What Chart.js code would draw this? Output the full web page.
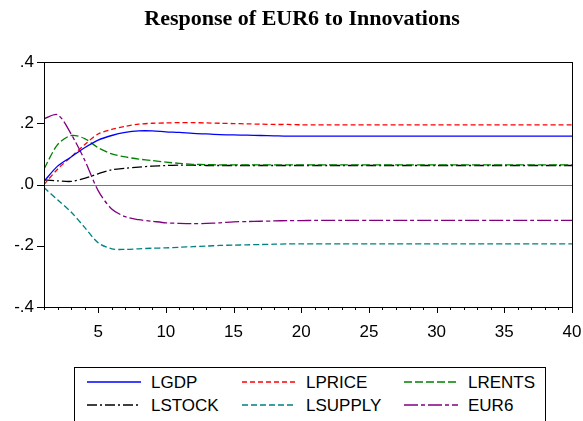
<!DOCTYPE html><html><head><script src="https://cdn.jsdelivr.net/npm/chart.js"></script>
<style>body{margin:0;background:#fff;width:583px;height:421px;overflow:hidden;position:relative;font-family:"Liberation Sans",Arial,sans-serif}
#lg{position:absolute;left:74px;top:367px;width:472px;height:70px;border:1px solid #000;box-sizing:border-box}
.it{position:absolute;font-size:17px;line-height:18px;white-space:nowrap}
</style></head><body>
<canvas id="c" width="583" height="345" style="position:absolute;left:0;top:0;width:583px;height:345px"></canvas>
<div id="lg"></div>
<script>
const periods=Array.from({length:40},(_,i)=>i+1);
function ext(a,v){while(a.length<40)a.push(v);return a;}
const LGDP=ext([0.01,0.06,0.09,0.12,0.145,0.16,0.17,0.175,0.175,0.172,0.170,0.167,0.165,0.163,0.162,0.161,0.160,0.159,0.158,0.158],0.158);
const LPRICE=ext([0.0,0.05,0.09,0.13,0.165,0.18,0.19,0.197,0.2,0.201,0.202,0.202,0.201,0.200,0.199,0.198,0.197,0.196,0.196,0.195],0.195);
const LRENTS=ext([0.05,0.13,0.16,0.15,0.12,0.10,0.09,0.083,0.078,0.073,0.069,0.066,0.065,0.064,0.064],0.064);
const LSTOCK=ext([0.015,0.012,0.01,0.02,0.035,0.048,0.053,0.057,0.06,0.062,0.063,0.063,0.062],0.062);
const LSUPPLY=ext([-0.01,-0.05,-0.09,-0.14,-0.19,-0.21,-0.212,-0.21,-0.208,-0.207,-0.205,-0.203,-0.201,-0.199,-0.198,-0.197,-0.196,-0.195,-0.194,-0.194],-0.194);
const EUR6=ext([0.215,0.228,0.165,0.08,-0.02,-0.08,-0.105,-0.115,-0.12,-0.125,-0.127,-0.128,-0.127,-0.125,-0.122,-0.121,-0.120,-0.119,-0.118,-0.118],-0.117);
const series=[
 ['LGDP',LGDP,'#0000ff',[]],
 ['LPRICE',LPRICE,'#ff0000',[5,3]],
 ['LRENTS',LRENTS,'#008000',[8,3]],
 ['LSTOCK',LSTOCK,'#000000',[10,3,2,3]],
 ['LSUPPLY',LSUPPLY,'#008080',[6,3]],
 ['EUR6',EUR6,'#800080',[14,3,4,3]]];
const xTicks=[5,10,15,20,25,30,35,40];
const yTicks=[-0.4,-0.2,0,0.2,0.4];
const fmt=v=>{const s=v.toFixed(1);return s.replace('0.','.')};
const deco={id:'deco',afterDatasetsDraw(ch){const {ctx,chartArea:a,scales:{x,y}}=ch;ctx.save();
 ctx.strokeStyle='#777';ctx.lineWidth=1;const z=Math.round(y.getPixelForValue(0))+0.5;
 ctx.beginPath();ctx.moveTo(a.left,z);ctx.lineTo(a.right,z);ctx.stroke();
 ctx.strokeStyle='#000';
 ctx.strokeRect(a.left+0.5,a.top+0.5,a.right-a.left,a.bottom-a.top);
 ctx.beginPath();
 periods.forEach(p=>{const px=Math.round(x.getPixelForValue(p))+0.5;ctx.moveTo(px,a.bottom);ctx.lineTo(px,a.bottom+(p%5===0?6:3));});
 yTicks.forEach(v=>{const py=Math.round(y.getPixelForValue(v))+0.5;ctx.moveTo(a.left,py);ctx.lineTo(a.left-7,py);});
 ctx.stroke();
 ctx.fillStyle='#000';ctx.font='bold 22px "Liberation Serif"';ctx.textAlign='center';ctx.textBaseline='middle';
 ctx.fillText('Response of EUR6 to Innovations',302,19);ctx.restore();}};
new Chart(document.getElementById('c'),{type:'line',
 data:{labels:periods,datasets:series.map(s=>({label:s[0],data:s[1].map((v,i)=>({x:i+1,y:v})),borderColor:s[2],borderDash:s[3],borderWidth:1.3,pointRadius:0,tension:0.3,fill:false}))},
 options:{responsive:false,animation:false,plugins:{legend:{display:false},tooltip:{enabled:false}},
 layout:{padding:{top:62,right:0,left:0,bottom:0}},
 scales:{x:{type:'linear',min:1,max:40,afterBuildTicks:s=>{s.ticks=xTicks.map(v=>({value:v}))},afterFit:s=>{s.height=345-307;s.paddingRight=11;},
   grid:{display:false,drawTicks:false},border:{display:false},ticks:{color:'#000',font:{size:17,family:'"Liberation Sans"'},padding:15,maxRotation:0}},
  y:{min:-0.4,max:0.4,afterBuildTicks:s=>{s.ticks=yTicks.map(v=>({value:v}))},afterFit:s=>{s.width=44},
   grid:{display:false,drawTicks:false},border:{display:false},ticks:{color:'#000',font:{size:17,family:'"Liberation Sans"'},padding:10,callback:v=>fmt(v)}}}},
 plugins:[deco]});
const lg=document.getElementById('lg');
const cols=[12,167,329];
series.forEach((s,i)=>{const c=cols[i%3],r=i<3?6:29;
 const d=document.createElement('div');d.className='it';d.style.left=c+'px';d.style.top=r+'px';
 d.innerHTML=`<svg width="64" height="10" style="vertical-align:middle;margin-top:-3px"><line x1="0" y1="5" x2="54" y2="5" stroke="${s[2]}" stroke-width="1.3" stroke-dasharray="${s[3].join(',')}"/></svg>${s[0]}`;
 lg.appendChild(d);});
</script></body></html>
